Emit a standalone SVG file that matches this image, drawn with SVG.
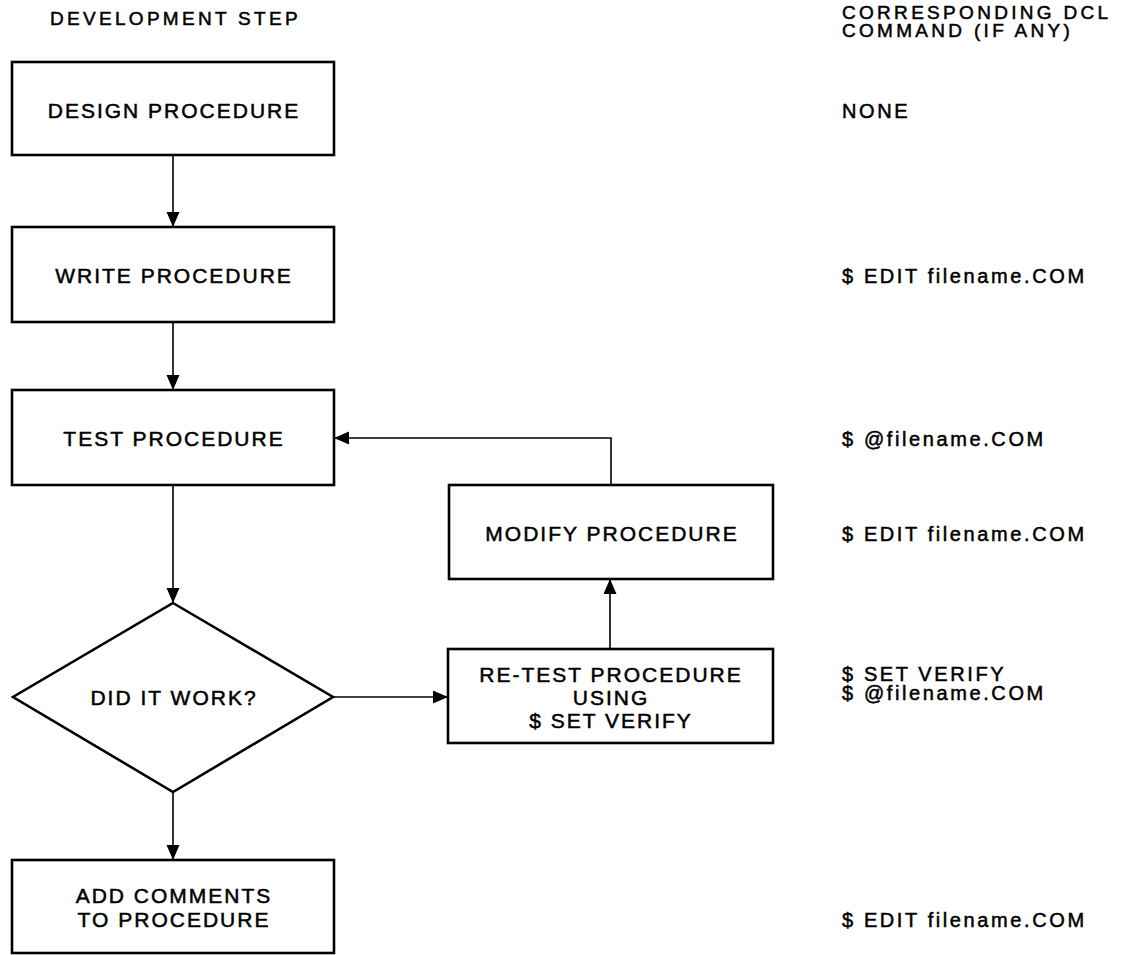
<svg xmlns="http://www.w3.org/2000/svg" width="1126" height="955" viewBox="0 0 1126 955">
  <style>
    .box { fill: #fff; stroke: #000; stroke-width: 2.6; }
    .link { fill: none; stroke: #000; stroke-width: 1.6; }
    .lbl { font-family: "Liberation Sans", Arial, sans-serif; font-size: 21px; letter-spacing: 2px; fill: #000; stroke: #000; stroke-width: 0.5; text-anchor: middle; }
    .hdr { font-family: "Liberation Sans", Arial, sans-serif; font-size: 19px; letter-spacing: 3.3px; fill: #000; stroke: #000; stroke-width: 0.5; }
    .cmd { font-family: "Liberation Sans", Arial, sans-serif; font-size: 20px; letter-spacing: 2.6px; fill: #000; stroke: #000; stroke-width: 0.5; }
  </style>
  <defs>
    <marker id="arrow" markerUnits="userSpaceOnUse" markerWidth="16" markerHeight="14" refX="15" refY="6.5" orient="auto">
      <path d="M0,0 L15,6.5 L0,13 Z" fill="#000"/>
    </marker>
  </defs>
  <rect width="1126" height="955" fill="#fff"/>

  <!-- column headings -->
  <g id="headings">
    <text class="hdr" x="50" y="25">DEVELOPMENT STEP</text>
    <text class="hdr" x="842" y="19">CORRESPONDING DCL</text>
    <text class="hdr" x="842" y="37">COMMAND (IF ANY)</text>
  </g>

  <!-- connectors -->
  <g id="connectors">
    <line class="link" x1="173" y1="155" x2="173" y2="227" marker-end="url(#arrow)"/>
    <line class="link" x1="173" y1="322" x2="173" y2="390" marker-end="url(#arrow)"/>
    <line class="link" x1="173" y1="485" x2="173" y2="603" marker-end="url(#arrow)"/>
    <line class="link" x1="173" y1="792" x2="173" y2="860" marker-end="url(#arrow)"/>
    <line class="link" x1="333" y1="697" x2="448" y2="697" marker-end="url(#arrow)"/>
    <line class="link" x1="610" y1="649" x2="610" y2="579" marker-end="url(#arrow)"/>
    <polyline class="link" points="611,485 611,438 334,438" marker-end="url(#arrow)"/>
  </g>

  <!-- flowchart steps -->
  <g id="design">
    <rect class="box" x="12" y="62" width="322" height="93"/>
    <text class="lbl" x="174" y="118">DESIGN PROCEDURE</text>
  </g>
  <g id="write">
    <rect class="box" x="12" y="227" width="322" height="95"/>
    <text class="lbl" x="174" y="283">WRITE PROCEDURE</text>
  </g>
  <g id="test">
    <rect class="box" x="12" y="390" width="322" height="95"/>
    <text class="lbl" x="174" y="446">TEST PROCEDURE</text>
  </g>
  <g id="modify">
    <rect class="box" x="449" y="485" width="324" height="94"/>
    <text class="lbl" x="612" y="541">MODIFY PROCEDURE</text>
  </g>
  <g id="decision">
    <polygon class="box" points="173,603 333,697 173,792 13,697"/>
    <text class="lbl" x="174" y="705">DID IT WORK?</text>
  </g>
  <g id="retest">
    <rect class="box" x="448" y="649" width="325" height="94"/>
    <text class="lbl" x="611" y="682">RE-TEST PROCEDURE</text>
    <text class="lbl" x="611" y="705">USING</text>
    <text class="lbl" x="611" y="728">$ SET VERIFY</text>
  </g>
  <g id="comments">
    <rect class="box" x="12" y="860" width="322" height="93"/>
    <text class="lbl" x="174" y="903">ADD COMMENTS</text>
    <text class="lbl" x="174" y="927">TO PROCEDURE</text>
  </g>

  <!-- DCL commands for each step -->
  <g id="commands">
    <text class="cmd" x="842" y="118">NONE</text>
    <text class="cmd" x="842" y="283">$ EDIT filename.COM</text>
    <text class="cmd" x="842" y="446">$ @filename.COM</text>
    <text class="cmd" x="842" y="541">$ EDIT filename.COM</text>
    <text class="cmd" x="842" y="681">$ SET VERIFY</text>
    <text class="cmd" x="842" y="700">$ @filename.COM</text>
    <text class="cmd" x="842" y="927">$ EDIT filename.COM</text>
  </g>
</svg>
